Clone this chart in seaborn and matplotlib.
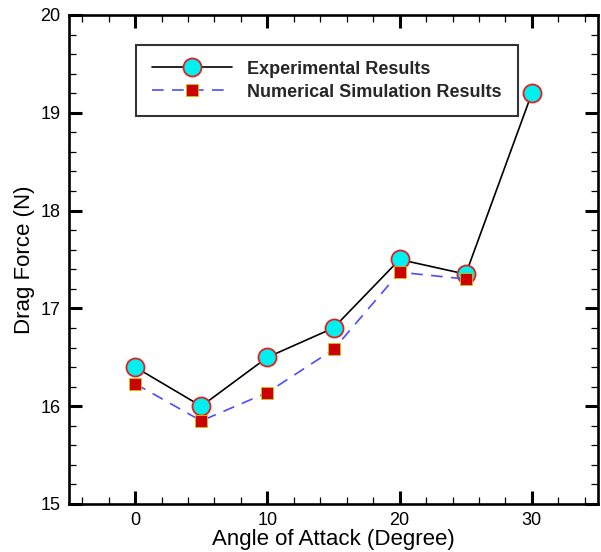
import matplotlib
matplotlib.use("Agg")
import matplotlib.pyplot as plt
import seaborn as sns
import pandas as pd
from matplotlib.ticker import MultipleLocator

angles_exp = [0, 5, 10, 15, 20, 25, 30]
drag_exp = [16.4, 16.0, 16.5, 16.8, 17.5, 17.35, 19.2]
angles_num = [0, 5, 10, 15, 20, 25]
drag_num = [16.23, 15.85, 16.14, 16.58, 17.37, 17.3]
series_names = ["Experimental Results", "Numerical Simulation Results"]

sns.set_theme(style="white")
plt.rcParams['font.family'] = ['Liberation Sans', 'DejaVu Sans']

df_exp = pd.DataFrame({"x": angles_exp, "y": drag_exp})
df_num = pd.DataFrame({"x": angles_num, "y": drag_num})

fig = plt.figure(figsize=(6.01, 5.52), dpi=100)
ax = fig.add_axes([69/601, 1 - 504/552, (598-69)/601, (504-15)/552])

sns.lineplot(data=df_exp, x="x", y="y", ax=ax, color="black", lw=1.2,
             marker="o", markersize=13, markerfacecolor="#00F0F0",
             markeredgecolor="#E02020", markeredgewidth=1.3,
             label=series_names[0], zorder=3)
sns.lineplot(data=df_num, x="x", y="y", ax=ax, color="#4D4DFF", lw=1.2,
             marker="s", markersize=9, markerfacecolor="#CC0000",
             markeredgecolor="#C8C800", markeredgewidth=0.6,
             label=series_names[1], zorder=4)
ax.lines[1].set_dashes([7, 5])

ax.set_xlim(-5, 35)
ax.set_ylim(15, 20)
ax.xaxis.set_major_locator(MultipleLocator(10))
ax.xaxis.set_minor_locator(MultipleLocator(2))
ax.yaxis.set_major_locator(MultipleLocator(1))
ax.yaxis.set_minor_locator(MultipleLocator(0.2))
ax.tick_params(which="major", direction="in", length=9.5, width=2.2,
               top=True, right=True, left=True, bottom=True,
               labelsize=13, pad=6, colors="black")
ax.tick_params(which="minor", direction="in", length=5, width=0.9,
               top=True, right=True, left=True, bottom=True, colors="black")
for s in ax.spines.values():
    s.set_linewidth(1.9)
    s.set_color("black")

ax.set_xlabel("Angle of Attack (Degree)", fontsize=16, labelpad=0, color="black")
ax.set_ylabel("Drag Force (N)", fontsize=16, labelpad=4, color="black")

leg = ax.legend(loc="upper left", bbox_to_anchor=((136-69)/529, (504-45)/489),
                borderaxespad=0,
                frameon=True, fancybox=False, edgecolor="black",
                prop={"weight": "bold", "size": 13}, handlelength=4.45,
                borderpad=0.87, labelspacing=0.33, handletextpad=0.85)
leg.get_frame().set_linewidth(1.5)

fig.savefig("out.png", dpi=100)
